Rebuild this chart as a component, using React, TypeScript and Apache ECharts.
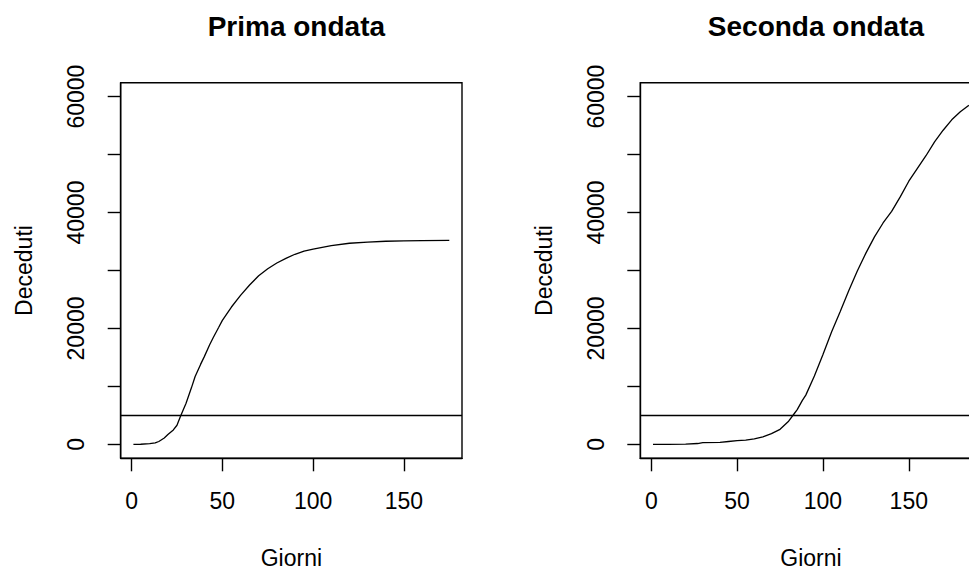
import React, { useEffect, useRef } from "react";
import * as echarts from "echarts";

// Prima ondata (first wave): day, cumulative deaths
const firstDays = [1, 5, 10, 13, 15, 18, 20, 23, 25, 27, 30, 33, 35, 38, 40, 43, 45, 48, 50, 55, 60, 65, 70, 75, 80, 85, 90, 95, 100, 110, 120, 130, 140, 150, 160, 175];
const firstDeaths = [0, 20, 120, 250, 500, 1100, 1700, 2500, 3300, 4900, 7100, 9800, 11700, 13800, 15100, 17200, 18450, 20200, 21400, 23700, 25700, 27500, 29100, 30300, 31300, 32100, 32800, 33350, 33700, 34300, 34700, 34900, 35050, 35120, 35150, 35200];

// Seconda ondata (second wave): day, cumulative deaths
const secondDays = [1, 10, 20, 27, 30, 40, 45, 50, 55, 60, 65, 70, 75, 80, 83, 85, 88, 90, 95, 100, 105, 110, 115, 120, 125, 130, 135, 140, 145, 150, 155, 160, 165, 170, 175, 180, 185];
const secondDeaths = [0, 10, 40, 150, 290, 350, 500, 650, 750, 950, 1300, 1850, 2600, 4000, 5200, 6000, 7600, 8500, 11800, 15500, 19400, 22900, 26500, 29900, 33000, 35800, 38200, 40200, 42700, 45400, 47600, 49800, 52200, 54200, 56000, 57400, 58500];

const xTicks = [0, 50, 100, 150];
const yTicks = [0, 10000, 20000, 30000, 40000, 50000, 60000];
const yLabels = [0, 20000, 40000, 60000];
const threshold = 5000;
const titles = ["Prima ondata", "Seconda ondata"];
const xName = "Giorni";
const yName = "Deceduti";

const FONT = "'Liberation Sans', Arial, sans-serif";

export default function App() {
  const ref = useRef<HTMLDivElement | null>(null);

  useEffect(() => {
    if (!ref.current) return;
    const chart = echarts.init(ref.current, null, { renderer: "svg" });

    const gridTop = 82.7;
    const gridH = 375.6;
    const gridW = 341.3;
    const lefts = [120.7, 640.3];
    const xRanges = [
      [-6, 182],
      [-6.4, 192.4],
    ];
    const fs = 23;

    const mkX = (i: number) => ({
      type: "value",
      gridIndex: i,
      min: xRanges[i][0],
      max: xRanges[i][1],
      name: xName,
      nameLocation: "middle",
      nameGap: 88,
      nameTextStyle: { fontSize: fs, color: "#000", fontFamily: FONT },
      axisLine: { show: true, onZero: false, lineStyle: { color: "#000", width: 1.4 } },
      axisTick: { show: true, inside: false, length: 13, customValues: xTicks, lineStyle: { color: "#000", width: 1.4 } },
      axisLabel: { show: true, margin: 31, customValues: xTicks, fontSize: fs, color: "#000", fontFamily: FONT, formatter: (v: number) => String(v) },
      splitLine: { show: false },
    });

    const mkY = (i: number) => ({
      type: "value",
      gridIndex: i,
      min: -2400,
      max: 62400,
      name: yName,
      nameLocation: "middle",
      nameGap: 85,
      nameRotate: 90,
      nameTextStyle: { fontSize: fs, color: "#000", fontFamily: FONT },
      axisLine: { show: true, onZero: false, lineStyle: { color: "#000", width: 1.4 } },
      axisTick: { show: true, inside: false, length: 13, customValues: yTicks, lineStyle: { color: "#000", width: 1.4 } },
      axisLabel: { show: true, rotate: 90, margin: 33, customValues: yLabels, fontSize: fs, color: "#000", fontFamily: FONT, formatter: (v: number) => String(v) },
      splitLine: { show: false },
    });

    const mkSeries = (i: number, days: number[], vals: number[]) => ({
      type: "line",
      xAxisIndex: i,
      yAxisIndex: i,
      data: days.map((d, k) => [d, vals[k]]),
      showSymbol: false,
      symbol: "none",
      lineStyle: { color: "#000", width: 1.3 },
      markLine: {
        silent: true,
        symbol: ["none", "none"],
        label: { show: false },
        lineStyle: { color: "#000", width: 1.4, type: "solid" },
        data: [{ yAxis: threshold }],
      },
    });

    chart.setOption({
      animation: false,
      backgroundColor: "#fff",
      title: titles.map((t, i) => ({
        text: t,
        left: lefts[i] + gridW / 2,
        top: 7,
        textAlign: "center",
        textStyle: { fontSize: 28, fontWeight: "bold", color: "#000", fontFamily: FONT },
      })),
      grid: lefts.map((l) => ({
        left: l,
        top: gridTop,
        width: gridW,
        height: gridH,
        show: true,
        borderColor: "#000",
        borderWidth: 1.4,
        backgroundColor: "transparent",
        containLabel: false,
        outerBoundsMode: "none",
      })),
      xAxis: [mkX(0), mkX(1)],
      yAxis: [mkY(0), mkY(1)],
      series: [mkSeries(0, firstDays, firstDeaths), mkSeries(1, secondDays, secondDeaths)],
    });

    return () => chart.dispose();
  }, []);

  return (
    <div style={{ position: "fixed", left: 0, top: 0, width: 969, height: 571, overflow: "hidden", background: "#fff" }}>
      <div ref={ref} style={{ width: 1040, height: 571 }} />
    </div>
  );
}
